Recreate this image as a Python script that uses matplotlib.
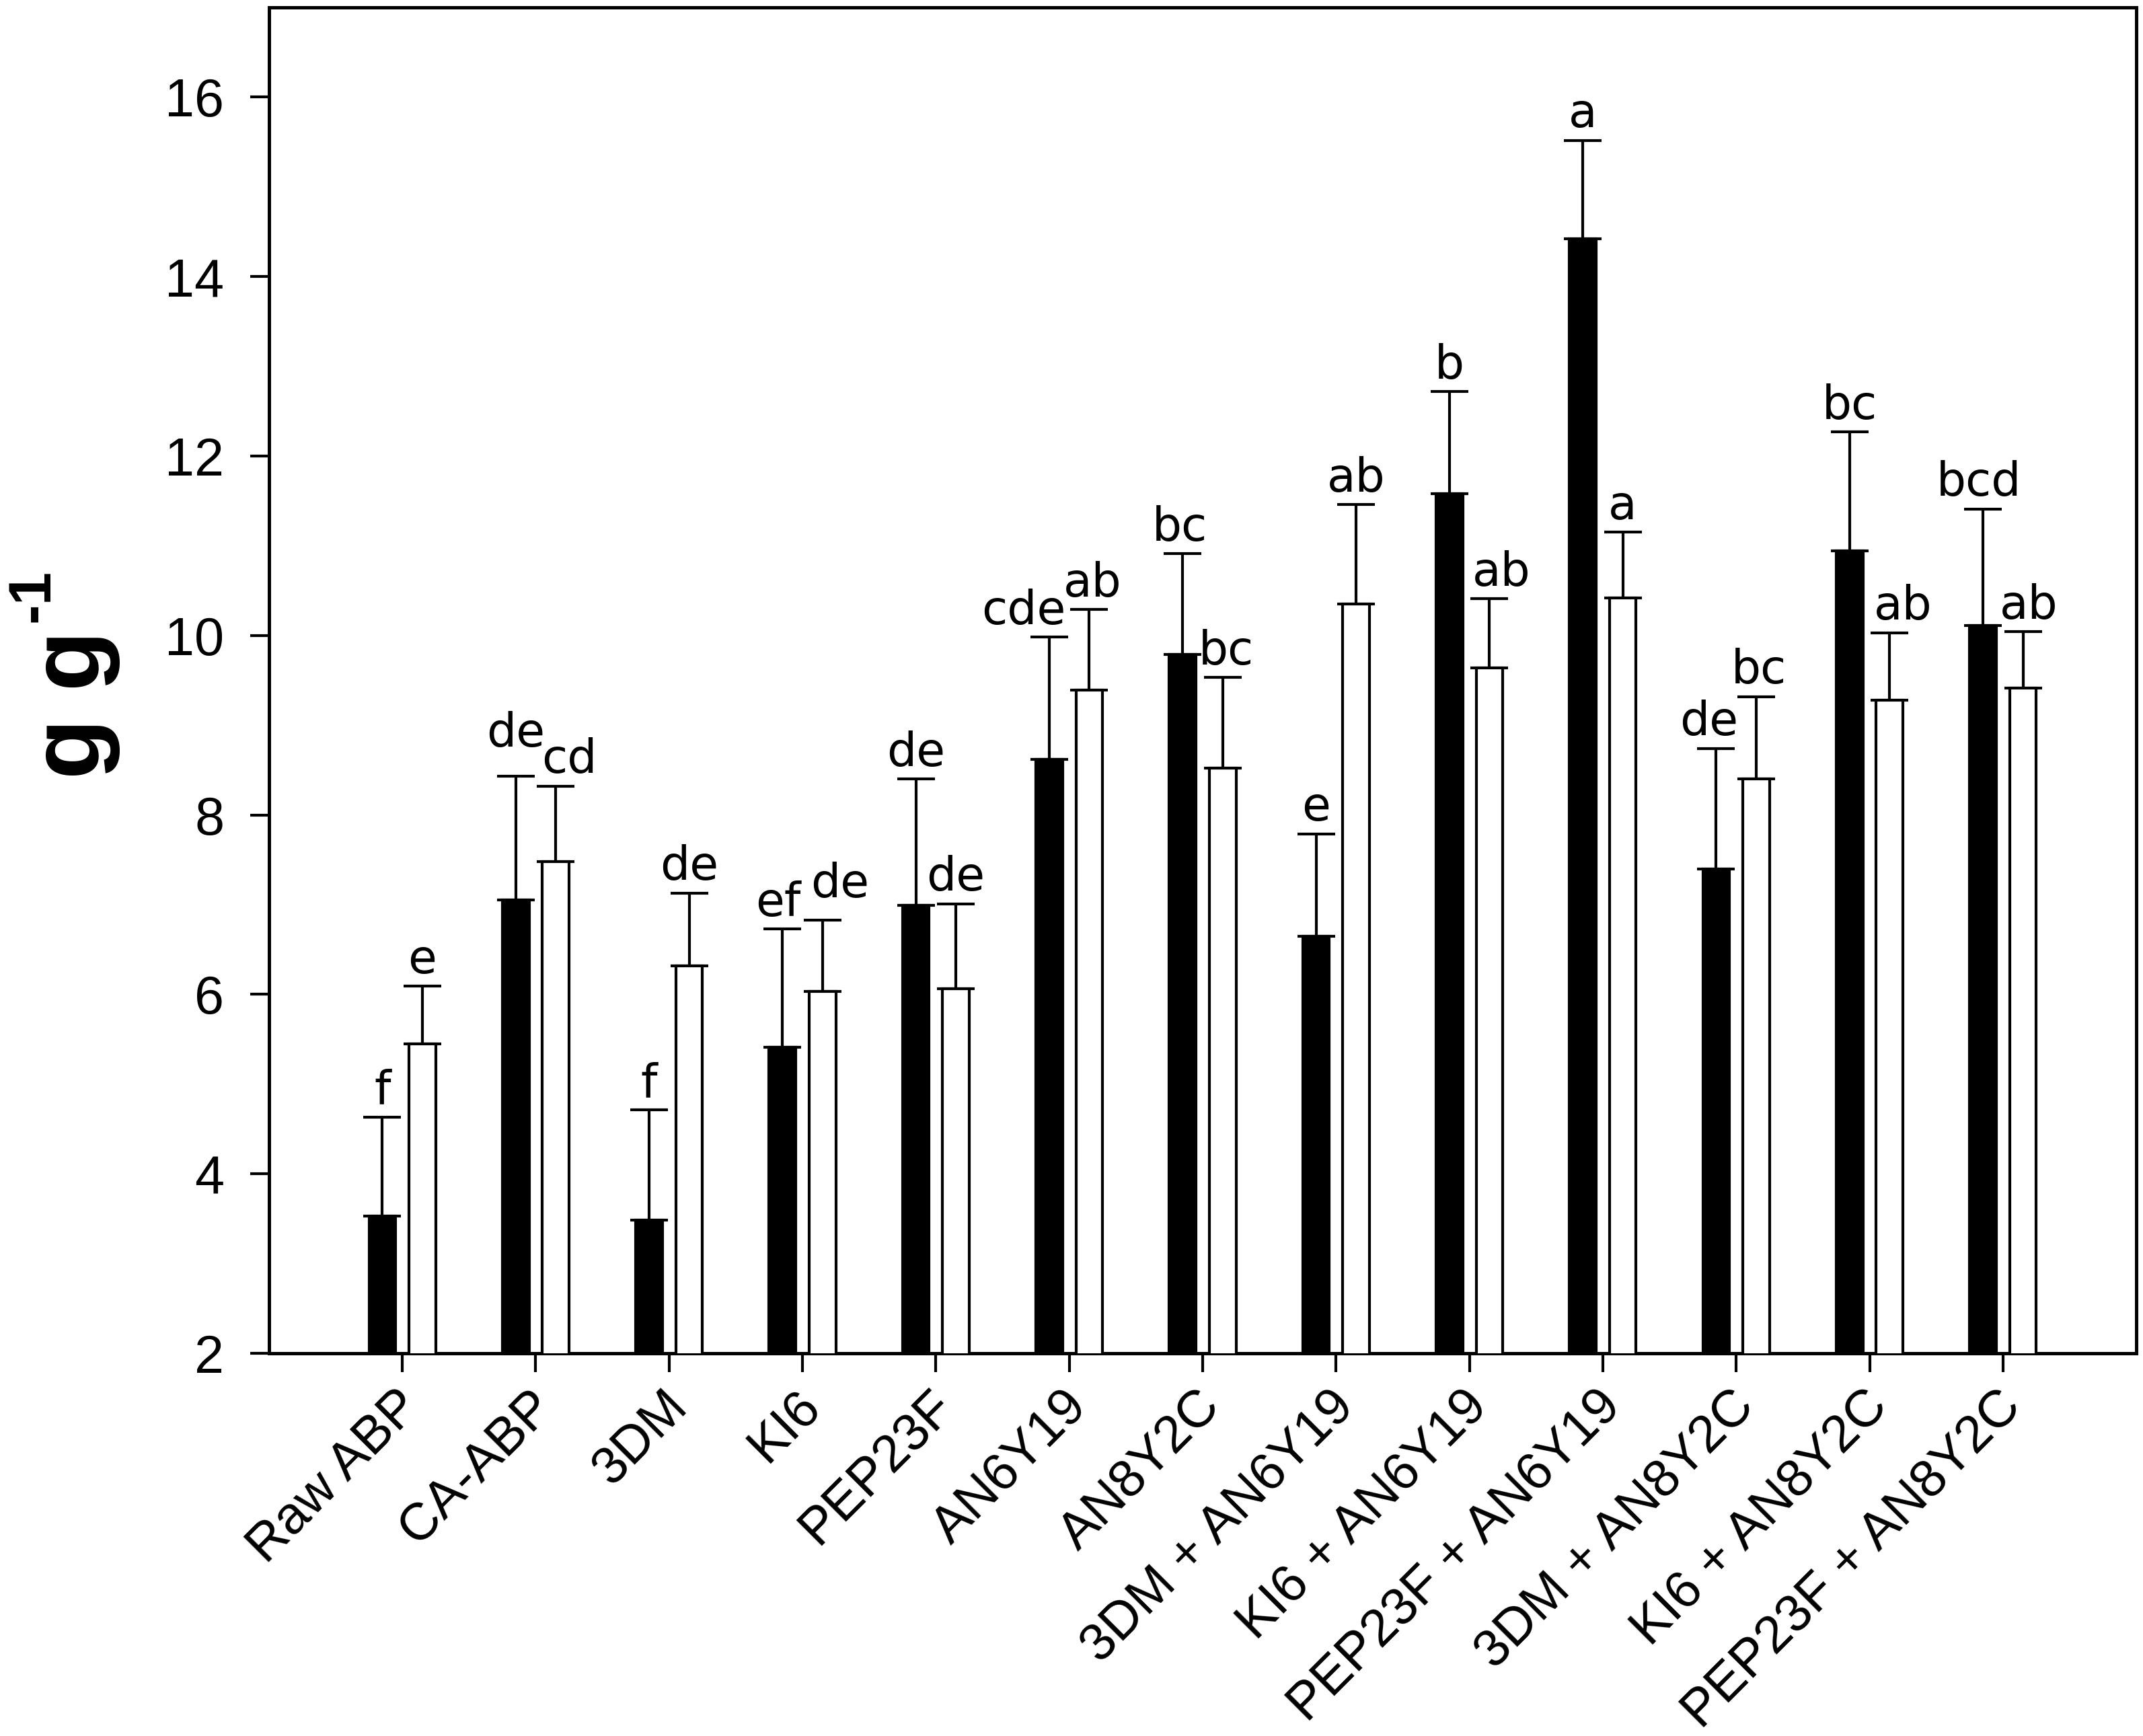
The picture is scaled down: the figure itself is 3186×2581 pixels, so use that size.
import matplotlib
matplotlib.use("Agg")
import matplotlib.pyplot as plt
from matplotlib.transforms import ScaledTranslation
import numpy as np

categories = ["Raw ABP", "CA-ABP", "3DM", "KI6", "PEP23F", "AN6Y19", "AN8Y2C",
              "3DM + AN6Y19", "KI6 + AN6Y19", "PEP23F + AN6Y19",
              "3DM + AN8Y2C", "KI6 + AN8Y2C", "PEP23F + AN8Y2C"]

black_mean = [3.53, 7.05, 3.48, 5.41, 6.99, 8.62, 9.79, 6.65, 11.58, 14.42, 7.40, 10.94, 10.11]
black_err = [1.10, 1.38, 1.23, 1.32, 1.41, 1.36, 1.12, 1.14, 1.14, 1.10, 1.34, 1.33, 1.30]
white_mean = [5.45, 7.48, 6.32, 6.03, 6.06, 9.39, 8.52, 10.35, 9.64, 10.42, 8.40, 9.28, 9.41]
white_err = [0.64, 0.84, 0.81, 0.80, 0.95, 0.90, 1.01, 1.11, 0.77, 0.73, 0.92, 0.75, 0.63]

black_letters = ["f", "de", "f", "ef", "de", "cde", "bc", "e", "b", "a", "de", "bc", "bcd"]
white_letters = ["e", "cd", "de", "de", "de", "ab", "bc", "ab", "ab", "a", "bc", "ab", "ab"]

yticks = [2, 4, 6, 8, 10, 12, 14, 16]
ylabel_main = "g g"
ylabel_sup = "-1"

# label nudges (dx in data units, dy in points)
black_dx = [0, 0, 0, -0.035, 0, -0.19, -0.02, 0, 0, 0, -0.055, 0, -0.03]
black_dy = [0, 9, 0, 0, 0, 0, 0, 0, 0, 0, 0, 0, 0]
white_dx = [0, 0.10, 0, 0.13, 0, 0.025, 0.025, 0, 0.09, 0, 0.02, 0.10, 0.045]
white_dy = [0, 0, 0, 5, 0, 0, 0, 0, 0, 0, 0, 0, 0]

plt.rcParams["font.family"] = ["Liberation Sans", "DejaVu Sans"]

fig = plt.figure(figsize=(15.93, 12.905), dpi=200)
ax = fig.add_axes([0.1255, 0.2205, 0.9969 - 0.1255, 0.9957 - 0.2205])

x = np.arange(len(categories))
w = 0.2
off = 0.15
lw = 1.5

ax.bar(x - off, black_mean, width=w, color="black", edgecolor="black", linewidth=lw, zorder=3)
ax.bar(x + off, white_mean, width=w, color="white", edgecolor="black", linewidth=lw, zorder=3)

ekw = dict(fmt="none", ecolor="black", elinewidth=lw, capsize=10, capthick=lw, zorder=2)
ax.errorbar(x - off, black_mean, yerr=[np.zeros(len(x)), black_err], **ekw)
ax.errorbar(x + off, white_mean, yerr=[np.zeros(len(x)), white_err], **ekw)

tfont = dict(family=["DejaVu Sans"], fontsize=25, ha="center", va="baseline")
for i in range(len(x)):
    ax.annotate(black_letters[i], xy=(x[i] - off + black_dx[i], black_mean[i] + black_err[i]),
                xytext=(0, 7 + black_dy[i]), textcoords="offset points", **tfont)
    ax.annotate(white_letters[i], xy=(x[i] + off + white_dx[i], white_mean[i] + white_err[i]),
                xytext=(0, 7 + white_dy[i]), textcoords="offset points", **tfont)

ax.set_xlim(-1, 13)
ax.set_ylim(2, 17)
ax.set_yticks(yticks)
ax.set_yticklabels([str(v) for v in yticks])
ax.set_xticks(x)
ax.set_xticklabels(categories, rotation=45, ha="right", rotation_mode="anchor")

ax.tick_params(axis="both", direction="out", length=10, width=1.5)
ax.tick_params(axis="y", pad=14, labelsize=28.5)
ax.tick_params(axis="x", pad=5, labelsize=28)
for s in ax.spines.values():
    s.set_linewidth(1.8)

shift = ScaledTranslation(-4 / 72, 0, fig.dpi_scale_trans)
for lbl in ax.get_xticklabels():
    lbl.set_transform(lbl.get_transform() + shift)

# y-axis label: main text plus raised superscript
fig.text(0.0465, 0.5513, ylabel_main, rotation=90, rotation_mode="anchor",
         ha="left", va="baseline", fontsize=53, fontweight="bold")
fig.text(0.0229, 0.6416, ylabel_sup, rotation=90, rotation_mode="anchor",
         ha="left", va="baseline", fontsize=32, fontweight="bold")

fig.savefig("out.png", dpi=200)
